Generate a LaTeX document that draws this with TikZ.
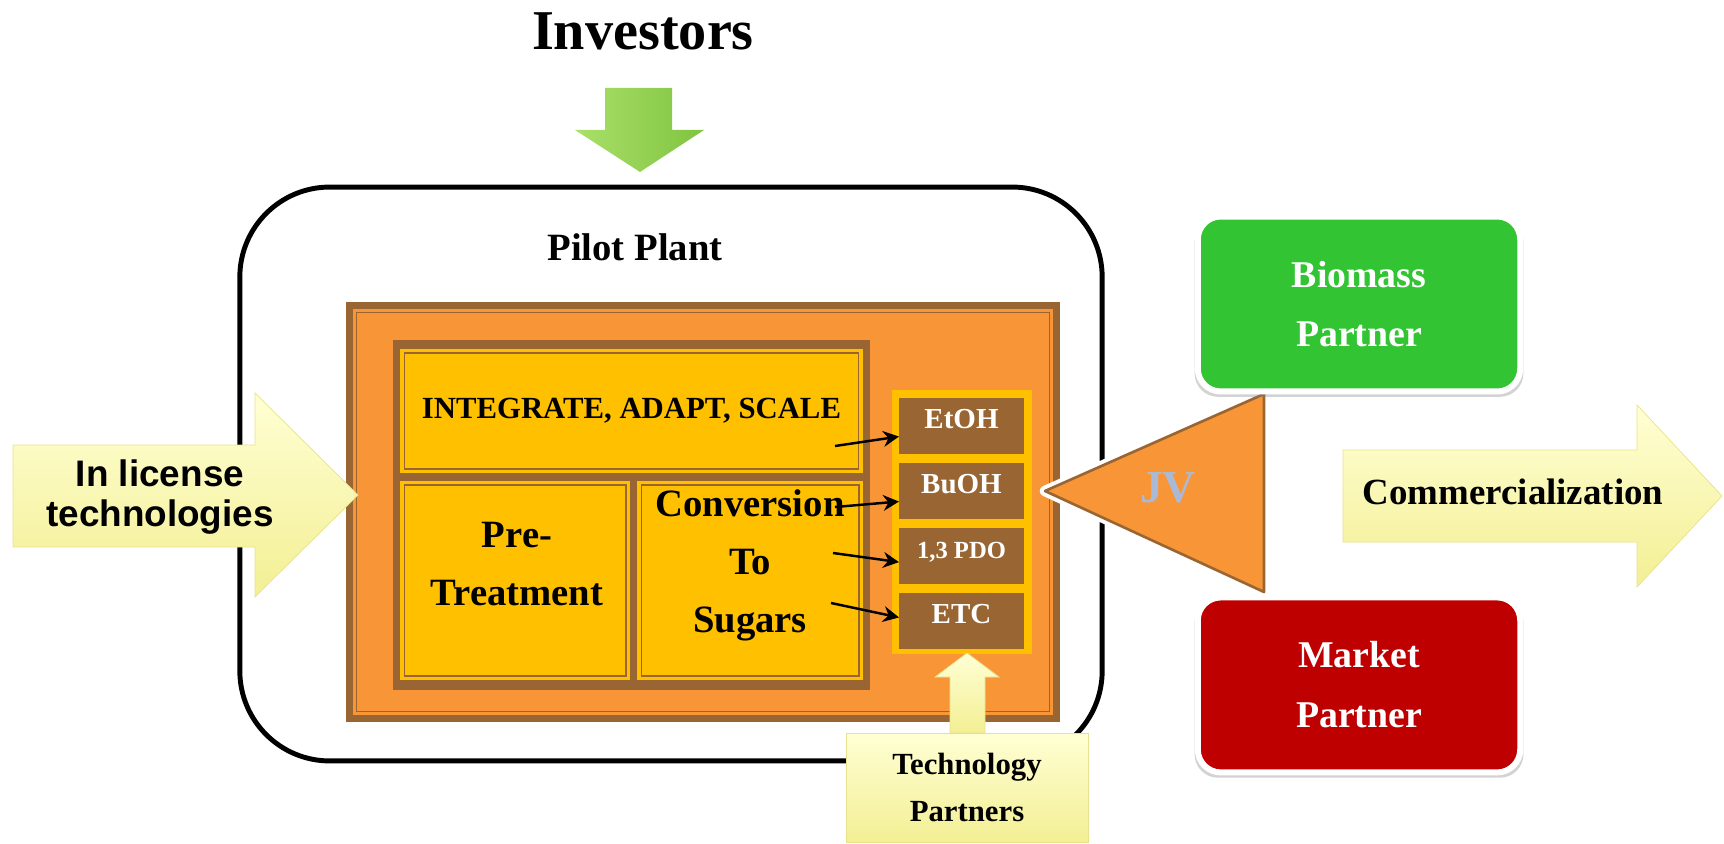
\documentclass[tikz,border=0pt]{standalone}
\usepackage{fontspec}
\setmainfont{Liberation Serif}
\setsansfont{Liberation Sans}
\usetikzlibrary{arrows.meta,positioning,calc,shadows}
\definecolor{plantorange}{RGB}{248,150,55}
\definecolor{plantbrown}{RGB}{153,102,51}
\definecolor{plantamber}{RGB}{255,192,0}
\definecolor{biogreen}{RGB}{50,196,50}
\definecolor{marketred}{RGB}{190,0,0}
\definecolor{paletop}{RGB}{255,255,212}
\definecolor{palebottom}{RGB}{243,239,148}
\definecolor{paleedge}{RGB}{232,226,140}
\definecolor{jvblue}{RGB}{170,186,214}
\definecolor{leaflight}{RGB}{170,224,105}
\definecolor{leafdark}{RGB}{128,196,64}

\begin{document}
\begin{tikzpicture}[x=0.02cm, y=-0.02cm,
    every node/.style={outer sep=0pt},
    pilot/.style={draw=black, line width=2.8pt, rounded corners=1.8cm, minimum width=17.25cm, minimum height=11.48cm},
    plantbox/.style={draw=plantbrown, line width=4pt, fill=plantorange, minimum width=14.14cm, minimum height=8.26cm},
    ybox/.style={fill=plantamber, align=center},
    stage/.style={align=center, font=\fontsize{22}{33}\selectfont\bfseries},
    prod/.style={fill=plantbrown, text=white, minimum width=2.5cm, minimum height=1.12cm, text height=11pt, text depth=8pt, font=\fontsize{16.5}{19}\selectfont\bfseries},
    feed/.style={-{Stealth[length=9pt,width=9pt]}, line width=1.4pt},
    partner/.style={draw=white, line width=3.4pt, rounded corners=0.46cm, minimum width=6.45cm, minimum height=3.5cm, text=white, align=center, font=\fontsize{21.5}{34}\selectfont\bfseries, drop shadow={opacity=0.35, shadow scale=1.02, shadow xshift=0pt, shadow yshift=-2pt}},
    pale/.style={top color=paletop, bottom color=palebottom, draw=paleedge, line width=0.4pt}
  ]
    \useasboundingbox (0,0) rectangle (1724,844);

    % investors on top
    \node[font=\fontsize{32}{38}\selectfont\bfseries] (investors) at (643,31) {Investors};
    \path[left color=leaflight, right color=leafdark] (605,88) -- (672,88) -- (672,130) -- (704,130) -- (640,172) -- (575,130) -- (605,130) -- cycle;

    % pilot plant
    \node[pilot] (pilot) at (671,474) {};
    \node[font=\fontsize{22}{26}\selectfont\bfseries] (pilottitle) at (635,247) {Pilot Plant};
    \node[plantbox] (plant) at (703,512) {};
    \node[fill=plantbrown, minimum width=9.54cm, minimum height=7cm] (frame) at (631.5,515) {};
    \node[ybox, minimum width=9.26cm, minimum height=2.48cm, font=\fontsize{17.5}{21}\selectfont\bfseries] (integ) at (631.5,411) {INTEGRATE, ADAPT, SCALE};
    \node[ybox, minimum width=4.6cm, minimum height=3.98cm] (pretr) at (515,580.5) {};
    \node[ybox, minimum width=4.52cm, minimum height=3.98cm] (conv) at (750,580.5) {};
    \draw[plantbrown, line width=0.8pt] ($(plant.north west)+(7,7)$) rectangle ($(plant.south east)+(-7,-7)$);
    \foreach \b in {integ,pretr,conv}
      \draw[plantbrown, line width=0.6pt] ($(\b.north west)+(4,4)$) rectangle ($(\b.south east)+(-4,-4)$);
    \node[stage] (pretrtext) at (517,564) {Pre-\\Treatment};
    \node[stage] (convtext) at (750,565) {Conversion\\To\\Sugars};

    % products
    \node[fill=plantamber, minimum width=2.8cm, minimum height=5.28cm] (prodcol) at (962,522) {};
    \node[prod] (etoh) at (961.5,426) {EtOH};
    \node[prod, below=0.18cm of etoh] (buoh) {BuOH};
    \node[prod, below=0.18cm of buoh, font=\fontsize{14}{17}\selectfont\bfseries] (pdo) {1,3 PDO};
    \node[prod, below=0.18cm of pdo] (etc) {ETC};

    \coordinate (s1) at (835,446);
    \coordinate (s2) at (835,507);
    \coordinate (s3) at (833,553);
    \coordinate (s4) at (831,603);
    \draw[feed] (s1) -- ([yshift=-6pt]etoh.west);
    \draw[feed] (s2) -- ([yshift=-6pt]buoh.west);
    \draw[feed] (s3) -- ([yshift=-3.5pt]pdo.west);
    \draw[feed] (s4) -- ([yshift=2pt]etc.west);

    % technology partners
    \path[pale] (950,733) -- (950,677) -- (935,677) -- (967,653) -- (999,677) -- (985,677) -- (985,733) -- cycle;
    \node[pale, minimum width=4.84cm, minimum height=2.18cm, align=center, font=\fontsize{17.5}{27}\selectfont\bfseries] (tech) at (967,787.5) {Technology\\Partners};

    % in license
    \path[pale] (13,445) -- (255,445) -- (255,393) -- (358,495) -- (255,597) -- (255,547) -- (13,547) -- cycle;
    \node[align=center, font=\fontsize{21}{22.5}\selectfont\sffamily\bfseries] (license) at (160,497) {In license\\technologies};

    % joint venture
    \draw[white, line width=6pt, line join=round] (1045,491) -- (1264,394) -- (1264,592) -- cycle;
    \draw[plantbrown, line width=1.5pt, fill=plantorange, line join=round] (1045,491) -- (1264,394) -- (1264,592) -- cycle;
    \node[text=jvblue, font=\fontsize{26}{30}\selectfont\bfseries] (jv) at (1168,488) {JV};

    \node[partner, fill=biogreen] (biomass) at (1359,304) {Biomass\\Partner};
    \node[partner, fill=marketred, below=4.12cm of biomass] (market) {Market\\Partner};

    % commercialization
    \path[pale] (1343,450) -- (1637,450) -- (1637,405) -- (1722,496) -- (1637,587) -- (1637,542) -- (1343,542) -- cycle;
    \node[font=\fontsize{21}{25}\selectfont\bfseries] (comm) at (1513,492) {Commercialization};
  \end{tikzpicture}
\end{document}
